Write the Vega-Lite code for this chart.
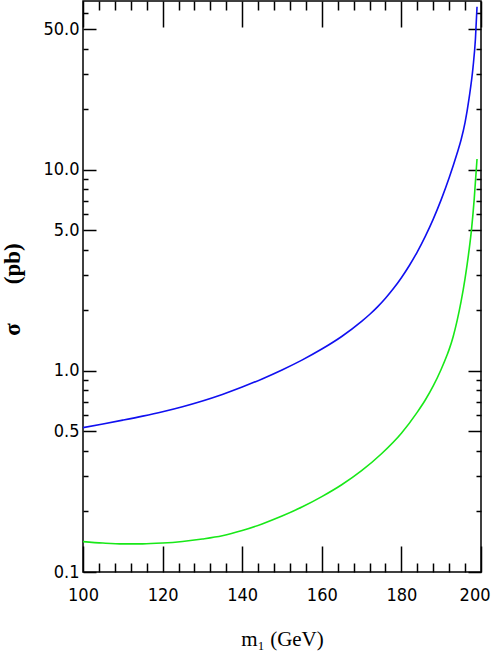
{
  "$schema": "https://vega.github.io/schema/vega-lite/v6.json",
  "width": 398,
  "height": 571,
  "autosize": {"type": "none"},
  "padding": {"left": 83, "top": 1, "right": 10, "bottom": 82},
  "config": {
    "view": {"stroke": "#000", "strokeWidth": 1.5},
    "axis": {
      "grid": false,
      "domain": false,
      "tickColor": "#000",
      "tickWidth": 1.5,
      "labelColor": "#000",
      "labelFont": "Liberation Sans Narrow, DejaVu Sans Condensed, Liberation Sans",
      "labelFontSize": 18,
      "titleColor": "#000"
    }
  },
  "data": {
    "values": [
      {"m": 100, "sigma": 0.522, "s": "blue"},
      {"m": 105, "sigma": 0.5445, "s": "blue"},
      {"m": 110, "sigma": 0.5689, "s": "blue"},
      {"m": 115, "sigma": 0.5957, "s": "blue"},
      {"m": 120, "sigma": 0.6266, "s": "blue"},
      {"m": 125, "sigma": 0.6637, "s": "blue"},
      {"m": 130, "sigma": 0.7087, "s": "blue"},
      {"m": 135, "sigma": 0.7638, "s": "blue"},
      {"m": 140, "sigma": 0.8309, "s": "blue"},
      {"m": 145, "sigma": 0.9120, "s": "blue"},
      {"m": 150, "sigma": 1.0104, "s": "blue"},
      {"m": 155, "sigma": 1.1311, "s": "blue"},
      {"m": 160, "sigma": 1.2838, "s": "blue"},
      {"m": 165, "sigma": 1.4825, "s": "blue"},
      {"m": 170, "sigma": 1.762, "s": "blue"},
      {"m": 172, "sigma": 1.9067, "s": "blue"},
      {"m": 174, "sigma": 2.0816, "s": "blue"},
      {"m": 176, "sigma": 2.2972, "s": "blue"},
      {"m": 178, "sigma": 2.5662, "s": "blue"},
      {"m": 180, "sigma": 2.9058, "s": "blue"},
      {"m": 182, "sigma": 3.342, "s": "blue"},
      {"m": 184, "sigma": 3.9084, "s": "blue"},
      {"m": 186, "sigma": 4.6633, "s": "blue"},
      {"m": 188, "sigma": 5.6845, "s": "blue"},
      {"m": 190, "sigma": 7.1017, "s": "blue"},
      {"m": 192, "sigma": 9.1201, "s": "blue"},
      {"m": 194, "sigma": 12.08, "s": "blue"},
      {"m": 195, "sigma": 14.083, "s": "blue"},
      {"m": 196, "sigma": 17.179, "s": "blue"},
      {"m": 197, "sigma": 22.646, "s": "blue"},
      {"m": 198, "sigma": 32.359, "s": "blue"},
      {"m": 198.6, "sigma": 44.668, "s": "blue"},
      {"m": 199, "sigma": 64.6, "s": "blue"},
      {"m": 100, "sigma": 0.1416, "s": "green"},
      {"m": 105, "sigma": 0.1393, "s": "green"},
      {"m": 110, "sigma": 0.1380, "s": "green"},
      {"m": 115, "sigma": 0.1380, "s": "green"},
      {"m": 120, "sigma": 0.1393, "s": "green"},
      {"m": 125, "sigma": 0.1419, "s": "green"},
      {"m": 130, "sigma": 0.1459, "s": "green"},
      {"m": 135, "sigma": 0.1514, "s": "green"},
      {"m": 140, "sigma": 0.1607, "s": "green"},
      {"m": 145, "sigma": 0.1734, "s": "green"},
      {"m": 150, "sigma": 0.1897, "s": "green"},
      {"m": 155, "sigma": 0.2104, "s": "green"},
      {"m": 160, "sigma": 0.2371, "s": "green"},
      {"m": 165, "sigma": 0.2716, "s": "green"},
      {"m": 170, "sigma": 0.3192, "s": "green"},
      {"m": 175, "sigma": 0.3873, "s": "green"},
      {"m": 180, "sigma": 0.4898, "s": "green"},
      {"m": 184, "sigma": 0.6237, "s": "green"},
      {"m": 186, "sigma": 0.7161, "s": "green"},
      {"m": 188, "sigma": 0.8414, "s": "green"},
      {"m": 190, "sigma": 1.019, "s": "green"},
      {"m": 191.5, "sigma": 1.202, "s": "green"},
      {"m": 192, "sigma": 1.279, "s": "green"},
      {"m": 193, "sigma": 1.479, "s": "green"},
      {"m": 194, "sigma": 1.778, "s": "green"},
      {"m": 195, "sigma": 2.213, "s": "green"},
      {"m": 196, "sigma": 2.884, "s": "green"},
      {"m": 197, "sigma": 3.981, "s": "green"},
      {"m": 197.6, "sigma": 5.012, "s": "green"},
      {"m": 198.3, "sigma": 7.161, "s": "green"},
      {"m": 199, "sigma": 11.30, "s": "green"}
    ]
  },
  "layer": [
    {
      "mark": {"type": "line", "interpolate": "monotone", "strokeWidth": 1.6, "clip": true},
      "encoding": {
        "x": {
          "field": "m", "type": "quantitative",
          "scale": {"domain": [100, 200], "nice": false, "zero": false},
          "axis": {
            "orient": "bottom",
            "values": [100, 120, 140, 160, 180, 200],
            "tickSize": -26,
            "labelPadding": 40,
            "labelFontSize": 18,
            "labelFlush": false,
            "labelAlign": {"condition": {"test": "datum.value == 200", "value": "right"}, "value": "center"},
            "labelOffset": {"condition": {"test": "datum.value == 200", "value": 9}, "value": 0},
            "title": "m₁ (GeV)",
            "titleFont": "Liberation Serif",
            "titleFontSize": 21,
            "titleFontWeight": "normal",
            "titleX": 199,
            "titleY": 73,
            "titleBaseline": "alphabetic",
            "titleAnchor": "middle"
          }
        },
        "y": {
          "field": "sigma", "type": "quantitative",
          "scale": {"type": "log", "domain": [0.1, 69], "nice": false},
          "axis": {
            "orient": "left",
            "values": [0.1, 0.5, 1, 5, 10, 50],
            "format": ".1f",
            "tickSize": -13,
            "labelPadding": 17,
            "labelFlush": false,
            "title": "σ\u2003\u2002\u2009(pb)",
            "titleFont": "Liberation Serif",
            "titleFontSize": 23,
            "titleFontWeight": "bold",
            "titleX": -82,
            "titleY": 288,
            "titleBaseline": "top",
            "titleAnchor": "middle",
            "titleAngle": -90
          }
        },
        "color": {
          "field": "s", "type": "nominal",
          "scale": {"domain": ["blue", "green"], "range": ["#1010f0", "#18e818"]},
          "legend": null
        }
      }
    },
    {
      "mark": {"type": "line", "opacity": 0},
      "encoding": {
        "x": {
          "field": "m", "type": "quantitative",
          "axis": {
            "orient": "bottom",
            "values": [104, 108, 112, 116, 124, 128, 132, 136, 144, 148, 152, 156, 164, 168, 172, 176, 184, 188, 192, 196],
            "tickSize": -9, "labels": false, "title": null
          }
        },
        "y": {
          "field": "sigma", "type": "quantitative",
          "axis": {
            "orient": "left",
            "values": [0.2, 0.3, 0.4, 0.6, 0.7, 0.8, 0.9, 2, 3, 4, 6, 7, 8, 9, 20, 30, 40, 60],
            "tickSize": -5, "labels": false, "title": null
          }
        },
        "detail": {"field": "s"}
      }
    },
    {
      "mark": {"type": "line", "opacity": 0},
      "encoding": {
        "x": {
          "field": "m", "type": "quantitative",
          "axis": {
            "orient": "top",
            "values": [100, 120, 140, 160, 180, 200],
            "tickSize": -26, "labels": false, "title": null
          }
        },
        "y": {
          "field": "sigma", "type": "quantitative",
          "axis": {
            "orient": "right",
            "values": [0.1, 0.5, 1, 5, 10, 50],
            "tickSize": -13, "labels": false, "title": null
          }
        },
        "detail": {"field": "s"}
      }
    },
    {
      "mark": {"type": "line", "opacity": 0},
      "encoding": {
        "x": {
          "field": "m", "type": "quantitative",
          "axis": {
            "orient": "top",
            "values": [104, 108, 112, 116, 124, 128, 132, 136, 144, 148, 152, 156, 164, 168, 172, 176, 184, 188, 192, 196],
            "tickSize": -9, "labels": false, "title": null
          }
        },
        "y": {
          "field": "sigma", "type": "quantitative",
          "axis": {
            "orient": "right",
            "values": [0.2, 0.3, 0.4, 0.6, 0.7, 0.8, 0.9, 2, 3, 4, 6, 7, 8, 9, 20, 30, 40, 60],
            "tickSize": -5, "labels": false, "title": null
          }
        },
        "detail": {"field": "s"}
      }
    }
  ],
  "resolve": {"axis": {"x": "independent", "y": "independent"}}
}
